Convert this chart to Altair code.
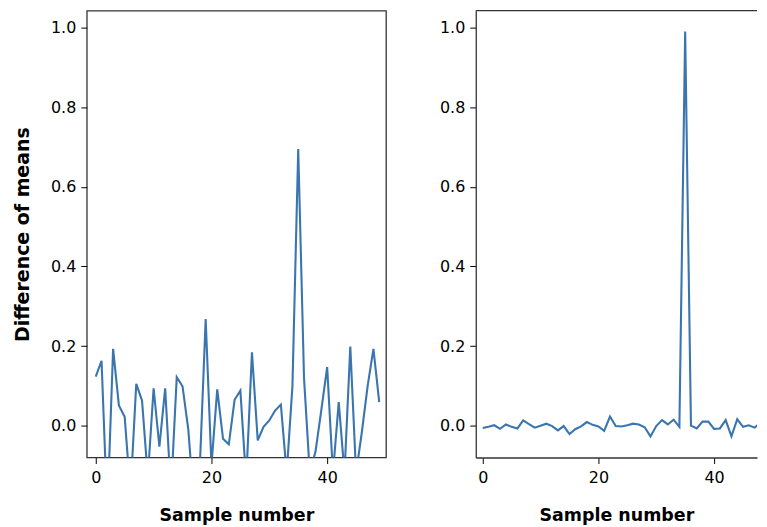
import altair as alt
import pandas as pd

sample_left = list(range(50))
diff_left = [0.123, 0.163, -0.22, 0.193, 0.051, 0.022, -0.17, 0.105, 0.063, -0.13,
             0.094, -0.053, 0.094, -0.17, 0.122, 0.099, -0.01, -0.2, -0.1, 0.268,
             -0.1, 0.091, -0.033, -0.047, 0.065, 0.088, -0.14, 0.184, -0.037, -0.003,
             0.013, 0.038, 0.053, -0.12, 0.1, 0.695, 0.12, -0.12, -0.064, 0.04,
             0.147, -0.12, 0.059, -0.12, 0.199, -0.12, -0.016, 0.1, 0.193, 0.059]

sample_right = list(range(50))
diff_right = [-0.006, -0.003, 0.001, -0.008, 0.003, -0.003, -0.007, 0.013, 0.004, -0.005,
              0.0, 0.005, -0.001, -0.012, -0.001, -0.021, -0.009, -0.002, 0.009, 0.002,
              -0.002, -0.013, 0.023, -0.001, -0.002, 0.001, 0.005, 0.003, -0.004, -0.027,
              -0.001, 0.014, 0.003, 0.015, -0.003, 0.99, 0.0, -0.007, 0.01, 0.01,
              -0.008, -0.007, 0.014, -0.027, 0.016, -0.003, 0.001, -0.005, 0.007, 0.01]

x_ticks = [0, 20, 40]
y_ticks = [0.0, 0.2, 0.4, 0.6, 0.8, 1.0]
y_domain = [-0.08, 1.0425]

LINE = "#3a75af"
FRAME = "#333333"
H = 448
PX_PER_UNIT = 300 / (50.17 + 1.55)


def line(samples, diffs, x_domain, width, ytitle, domain):
    df = pd.DataFrame({"sample": samples, "diff": diffs})
    return alt.Chart(df).mark_line(clip=True, color=LINE, strokeWidth=2.1).encode(
        x=alt.X("sample:Q",
                scale=alt.Scale(domain=x_domain, nice=False, zero=False),
                axis=alt.Axis(values=x_ticks, title="Sample number", domain=domain)),
        y=alt.Y("diff:Q",
                scale=alt.Scale(domain=y_domain, nice=False, zero=False),
                axis=alt.Axis(values=y_ticks, format=".1f", title=ytitle, domain=domain)),
    ).properties(width=width, height=H)


left = line(sample_left, diff_left, [-1.55, 50.17], 300, "Difference of means", False)

RW = 282
right_line = line(sample_right, diff_right, [-1.2, -1.2 + RW / PX_PER_UNIT], RW, None, True)
top_border = alt.Chart(pd.DataFrame({"edge": [0]})).mark_rule(
    color=FRAME, strokeWidth=1.3
).encode(x=alt.value(0), x2=alt.value(RW), y=alt.value(0))
right = alt.layer(right_line, top_border).properties(
    width=RW, height=H, view=alt.ViewConfig(stroke="transparent")
)

chart = alt.hconcat(left, right, spacing=90, bounds="flush").properties(
    padding={"left": 4, "top": 0, "right": 0, "bottom": 0}
).configure_view(
    stroke=FRAME, strokeWidth=1.3
).configure_axis(
    grid=False, domainColor=FRAME, domainWidth=1.3,
    tickColor="#000000", tickSize=6, tickWidth=1,
    labelFont="DejaVu Sans", labelFontSize=16, labelColor="#000000",
    titleFont="DejaVu Sans", titleFontWeight="bold", titleColor="#000000",
).configure_axisX(
    labelPadding=6, titlePadding=21, titleFontSize=17.5
).configure_axisY(
    labelPadding=5, titlePadding=18, titleFontSize=19
)

chart.save("out.html", embed_options={"renderer": "svg", "actions": False})
